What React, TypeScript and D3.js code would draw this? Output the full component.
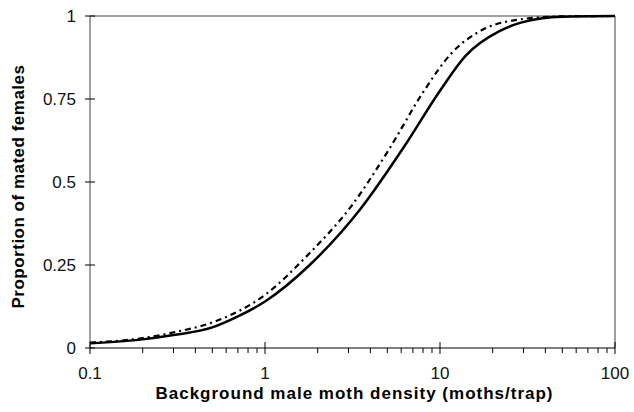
import React from "react";
import * as d3 from "d3";

const solidX = [0.1, 0.2, 0.3, 0.5, 0.7, 1, 1.8, 3.5, 6.3, 10, 14, 22, 29, 50, 100];
const solidY = [0.014, 0.026, 0.039, 0.062, 0.095, 0.14, 0.25, 0.418, 0.61, 0.775, 0.88, 0.955, 0.98, 0.998, 1];

const dashX = [0.1, 0.2, 0.3, 0.5, 1, 1.8, 3.1, 5, 8, 11.5, 17, 25, 50, 100];
const dashY = [0.016, 0.03, 0.047, 0.077, 0.16, 0.286, 0.426, 0.59, 0.77, 0.885, 0.955, 0.985, 0.999, 1];

const xTicks = [0.1, 1, 10, 100];
const xTickLabels = ["0.1", "1", "10", "100"];
const yTicks = [0, 0.25, 0.5, 0.75, 1];
const yTickLabels = ["0", "0.25", "0.5", "0.75", "1"];

const xTitle = "Background male moth density (moths/trap)";
const yTitle = "Proportion of mated females";

export default function App() {
  const W = 634, H = 412;
  const L = 90, R = 615, T = 16, B = 348;
  const x = d3.scaleLog().domain([0.1, 100]).range([L, R]);
  const y = d3.scaleLinear().domain([0, 1]).range([B, T]);
  const line = d3
    .line<[number, number]>()
    .x((d) => x(d[0]))
    .y((d) => y(d[1]))
    .curve(d3.curveMonotoneX);
  const solidPath = line(solidX.map((v, i) => [v, solidY[i]]) as [number, number][]) || "";
  const dashPath = line(dashX.map((v, i) => [v, dashY[i]]) as [number, number][]) || "";

  const minor: number[] = [];
  for (const dec of [0.1, 1, 10]) {
    for (let k = 2; k <= 9; k++) minor.push(dec * k);
  }
  const font = "'Liberation Sans', Arial, sans-serif";

  return (
    <svg
      width={W}
      height={H}
      style={{ position: "absolute", left: 0, top: 0, background: "#fff" }}
    >
      <rect x={0} y={0} width={W} height={H} fill="#fff" />
      {/* frame */}
      <line x1={L} x2={R} y1={T} y2={T} stroke="#808080" strokeWidth={1.5} />
      <line x1={R} x2={R} y1={T} y2={B} stroke="#808080" strokeWidth={1.5} />
      <line x1={L} x2={L} y1={T} y2={B} stroke="#808080" strokeWidth={1.5} />
      <line x1={L} x2={R} y1={B} y2={B} stroke="#000" strokeWidth={1.2} />
      {/* y ticks */}
      {yTicks.map((t, i) => (
        <g key={"y" + i}>
          <line x1={L - 5} x2={L + 5} y1={y(t)} y2={y(t)} stroke="#000" strokeWidth={1} />
          <text
            x={L - 14}
            y={y(t)}
            dy="0.36em"
            textAnchor="end"
            fontFamily={font}
            fontSize={17}
            fill="#111"
          >
            {yTickLabels[i]}
          </text>
        </g>
      ))}
      {/* x ticks */}
      {minor.map((t, i) => (
        <line key={"m" + i} x1={x(t)} x2={x(t)} y1={B} y2={B + 5} stroke="#000" strokeWidth={1} />
      ))}
      {xTicks.map((t, i) => (
        <g key={"x" + i}>
          <line x1={x(t)} x2={x(t)} y1={B - 6} y2={B + 6} stroke="#000" strokeWidth={1} />
          <text
            x={x(t)}
            y={B + 31}
            textAnchor="middle"
            fontFamily={font}
            fontSize={17}
            fill="#111"
          >
            {xTickLabels[i]}
          </text>
        </g>
      ))}
      {/* curves */}
      <path d={dashPath} fill="none" stroke="#000" strokeWidth={2.2} strokeDasharray="6 4 2 4" />
      <path d={solidPath} fill="none" stroke="#000" strokeWidth={2.5} />
      {/* titles */}
      <text
        x={(L + R) / 2 + 2}
        y={399}
        textAnchor="middle"
        fontFamily={font}
        fontWeight="bold"
        fontSize={17}
        letterSpacing={1}
        fill="#000"
      >
        {xTitle}
      </text>
      <text
        transform={`translate(24, ${(60 + 313) / 2}) rotate(-90)`}
        textAnchor="middle"
        fontFamily={font}
        fontWeight="bold"
        fontSize={17}
        letterSpacing={0.5}
        fill="#000"
      >
        {yTitle}
      </text>
    </svg>
  );
}
